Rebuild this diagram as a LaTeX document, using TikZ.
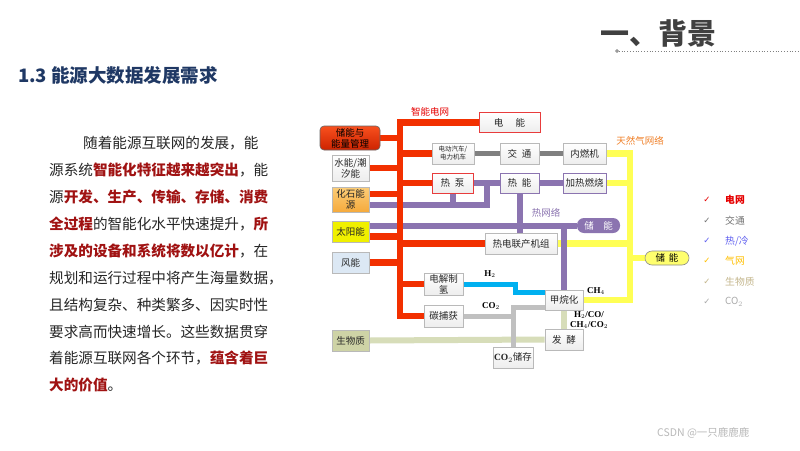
\documentclass[tikz,border=0pt]{standalone}
\usepackage{fontspec}
\setmainfont{Noto Sans CJK SC}
\newfontfamily\djv{DejaVu Sans}
\newfontfamily\tms{Liberation Serif}
\usetikzlibrary{backgrounds}
\definecolor{netred}{RGB}{242,48,0}
\definecolor{heatpur}{RGB}{139,116,176}
\definecolor{gasyel}{RGB}{255,255,85}
\definecolor{trafgray}{RGB}{128,128,128}
\definecolor{co2gray}{RGB}{192,192,192}
\definecolor{biogreen}{RGB}{215,221,185}
\definecolor{h2blue}{RGB}{0,176,240}
\definecolor{hlred}{RGB}{160,18,18}
\definecolor{txt}{RGB}{38,38,38}
\definecolor{navy}{RGB}{31,56,100}
\definecolor{essT}{RGB}{248,80,30}
\definecolor{essB}{RGB}{205,35,0}
\definecolor{boxred}{RGB}{232,60,60}
\definecolor{fosT}{RGB}{252,205,120}
\definecolor{fosB}{RGB}{245,170,60}
\definecolor{solarF}{RGB}{240,240,0}
\definecolor{windF}{RGB}{220,232,244}
\definecolor{bioF}{RGB}{206,211,166}
\definecolor{storGF}{RGB}{255,255,110}
\definecolor{lgRed}{RGB}{230,0,0}
\definecolor{lgGray}{RGB}{115,115,115}
\definecolor{lgBlue}{RGB}{95,95,240}
\definecolor{lgYel}{RGB}{255,192,0}
\definecolor{lgTan}{RGB}{196,182,140}
\definecolor{lgCO}{RGB}{170,170,170}
\definecolor{gasLbl}{RGB}{240,128,40}
\newcommand\hl[1]{{\bfseries\color{hlred}#1}}
\begin{document}
\begin{tikzpicture}[x=1pt,y=-1pt,
  box/.style={draw=gray!55, line width=0.6pt, top color=white, bottom color=gray!14,
    inner sep=0pt, align=center, font=\fontsize{9.5}{11}\selectfont, text=black!85},
  redl/.style={draw=netred, line width=6.5pt},
  purl/.style={draw=heatpur, line width=6pt},
  yell/.style={draw=gasyel, line width=6.5pt},
  grayl/.style={draw=trafgray, line width=5pt},
  co2l/.style={draw=co2gray, line width=5pt},
  biol/.style={draw=biogreen, line width=6pt},
  h2l/.style={draw=h2blue, line width=5pt},
  body/.style={anchor=west, inner sep=0pt, text=txt, font=\fontsize{14.6}{16}\selectfont},
  lbl/.style={inner sep=0pt, font=\fontsize{9.5}{11}\selectfont},
  chem/.style={inner sep=0pt, font=\tms\fontsize{9}{10}\selectfont\bfseries, align=center},
  chk/.style={inner sep=0pt, font=\djv\fontsize{8.5}{9}\selectfont},
  leg/.style={anchor=west, inner sep=0pt, font=\fontsize{9.8}{11}\selectfont}
]
\useasboundingbox (0,0) rectangle (800,450);

% header
\node[anchor=west, inner sep=0pt, text=black!75, font=\fontsize{29}{30}\selectfont\bfseries] (title) at (600,33) {一、背景};
\node[circle, draw=gray, fill=gray!60, inner sep=0pt, minimum size=3pt] (tdot) at (617,51) {};
\coordinate (tend) at (800,51);
\draw[gray, dotted, line width=0.8pt] (tdot) -- (tend);
\node[anchor=west, inner sep=0pt, text=navy, font=\fontsize{18.5}{20}\selectfont\bfseries] (sub) at (18,75) {1.3 能源大数据发展需求};

% body text
\node[body] (l1) at (83,143) {随着能源互联网的发展，能};
\node[body] (l2) at (49,170) {源系统\hl{智能化特征越来越突出}，能};
\node[body] (l3) at (49,197) {源\hl{开发、生产、传输、存储、消费}};
\node[body] (l4) at (49,224) {\hl{全过程}的智能化水平快速提升，\hl{所}};
\node[body] (l5) at (49,251) {\hl{涉及的设备和系统将数以亿计}，在};
\node[body] (l6) at (49,278) {规划和运行过程中将产生海量数据，};
\node[body] (l7) at (49,305) {且结构复杂、种类繁多、因实时性};
\node[body] (l8) at (49,332) {要求高而快速增长。这些数据贯穿};
\node[body] (l9) at (49,358) {着能源互联网各个环节，\hl{蕴含着巨}};
\node[body] (l10) at (49,385) {\hl{大的价值}。};

% diagram nodes
\node[box, draw=black!60, top color=essT, bottom color=essB, rounded corners=4pt, minimum width=60, minimum height=24, text=black] (ess) at (350,138) {储能与\\能量管理};
\node[box, minimum width=37, minimum height=26] (hydro) at (350.5,168) {水能/潮\\汐能};
\node[box, top color=fosT, bottom color=fosB, minimum width=37, minimum height=25] (fossil) at (350.5,199.5) {化石能\\源};
\node[box, top color=solarF, bottom color=solarF, minimum width=37, minimum height=21] (solar) at (350.5,231.5) {太阳能};
\node[box, top color=windF, bottom color=windF, minimum width=37, minimum height=21] (wind) at (350.5,262.5) {风能};
\node[box, top color=bioF, bottom color=bioF, minimum width=37, minimum height=21] (bio) at (350.5,340.5) {生物质};
\node[box, draw=boxred, line width=0.9pt, minimum width=61, minimum height=20] (elec) at (509.5,122.5) {电\hspace{1.3em}能};
\node[box, minimum width=42, minimum height=21, font=\fontsize{6.5}{8}\selectfont] (ev) at (453,153.5) {电动汽车/\\电力机车};
\node[box, minimum width=39, minimum height=21] (traffic) at (519.5,153.5) {交\hspace{0.5em}通};
\node[box, minimum width=43, minimum height=21] (ice) at (584.5,153.5) {内燃机};
\node[box, draw=boxred, line width=0.9pt, minimum width=41, minimum height=20] (hp) at (452.5,183) {热\hspace{0.5em}泵};
\node[box, draw=heatpur, line width=0.9pt, minimum width=39, minimum height=20] (heat) at (519.5,183) {热\hspace{0.5em}能};
\node[box, draw=heatpur, line width=0.9pt, minimum width=43, minimum height=20] (burn) at (584.5,183) {加热燃烧};
\node[box, minimum width=72, minimum height=21] (chp) at (521,243.5) {热电联产机组};
\node[box, draw=none, top color=heatpur, bottom color=heatpur, rounded corners=7pt, minimum width=43, minimum height=15, text=white] (storH) at (598.5,225.5) {储\hspace{1em}能};
\node[box, draw=black!45, top color=storGF, bottom color=storGF, rounded corners=7pt, minimum width=44, minimum height=14, text=black] (storG) at (667,258) {储\hspace{0.4em}能};
\node[box, minimum width=39, minimum height=22] (ely) at (443.5,284) {电解制\\氢};
\node[box, minimum width=39, minimum height=22] (ccs) at (443.5,316) {碳捕获};
\node[box, minimum width=38, minimum height=20] (meth) at (564,300) {甲烷化};
\node[box, minimum width=38, minimum height=21] (ferm) at (564,339.5) {发\hspace{0.5em}酵};
\node[box, minimum width=40, minimum height=21] (co2s) at (513,357.5) {{\tms\bfseries CO$_2$}储存};

% labels
\node[lbl, text=lgRed] (lgrid) at (430,112) {智能电网};
\node[lbl, text=gasLbl] (lgas) at (640,141) {天然气网络};
\node[lbl, text=heatpur] (lheat) at (546,213) {热网络};
\node[chem] (lh2) at (490,274) {H$_2$};
\node[chem] (lco2) at (491,306) {CO$_2$};
\node[chem] (lch4) at (596,291) {CH$_4$};
\node[chem] (lmix) at (589,320) {H$_2$/CO/\\CH$_4$/CO$_2$};

% legend
\node[chk, text=lgRed] (c1) at (707,200) {✓};
\node[leg, text=lgRed, font=\fontsize{9.8}{11}\selectfont\bfseries] (g1) at (725,200) {电网};
\node[chk, text=lgGray] (c2) at (707,221) {✓};
\node[leg, text=lgGray] (g2) at (725,221) {交通};
\node[chk, text=lgBlue] (c3) at (707,241) {✓};
\node[leg, text=lgBlue] (g3) at (725,241) {热/冷};
\node[chk, text=lgYel] (c4) at (707,261) {✓};
\node[leg, text=lgYel] (g4) at (725,261) {气网};
\node[chk, text=lgTan] (c5) at (707,282) {✓};
\node[leg, text=lgTan] (g5) at (725,282) {生物质};
\node[chk, text=lgCO] (c6) at (707,302) {✓};
\node[leg, text=lgCO] (g6) at (725,302) {CO$_2$};

% watermark
\node[anchor=west, inner sep=0pt, text=gray!55, font=\fontsize{10.5}{12}\selectfont] (wm) at (657,433) {CSDN @一只鹿鹿鹿};

% connectors
\coordinate (bx) at (400,0);
\coordinate (gx) at (630,0);
\coordinate (cx) at (513,0);
\coordinate (hx) at (515,0);
\coordinate (fx) at (486.5,0);
\coordinate (fp) at ([yshift=-5.5pt]fossil.east);
\coordinate (fr) at ([yshift=5.5pt]fossil.east);
\coordinate (sp) at ([yshift=6pt]solar.east);
\coordinate (sr) at ([yshift=-5pt]solar.east);
\coordinate (mh) at ([yshift=7.5pt]meth.west);
\coordinate (mc) at ([yshift=-7pt]meth.west);
\begin{scope}[on background layer]
  \fill[white] (0,0) rectangle (800,450);
  % gas network
  \draw[yell] (ice.east) -| (meth.east -| gx) -- (meth.east);
  \draw[yell] (burn.east) -- (burn.east -| gx);
  \draw[yell] (chp.east) -- (chp.east -| gx);
  \draw[yell] (storG.west -| gx) -- (storG.west);
  % heat network
  \draw[purl] (fp) -| (hp.east -| fx);
  \draw[purl] (hp.south) -- (hp.south |- fp);
  \draw[purl] (hp.east) -- (heat.west);
  \draw[purl] (heat.east) -- (burn.west);
  \draw[purl] (heat.south) -- (heat.south |- chp.north);
  \draw[purl] (sp) -- (sp -| storH.west);
  \draw[purl] (meth.north) -- (meth.north |- storH.west);
  % power grid
  \draw[redl] (ccs.west) -| (elec.west -| bx) -- (elec.west);
  \draw[redl] (ess.east) -- (ess.east -| bx);
  \draw[redl] (hydro.east) -- (hydro.east -| bx);
  \draw[redl] (fr) -- (fr -| bx);
  \draw[redl] (sr) -- (sr -| bx);
  \draw[redl] (wind.east) -- (wind.east -| bx);
  \draw[redl] (ev.west -| bx) -- (ev.west);
  \draw[redl] (hp.west -| bx) -- (hp.west);
  \draw[redl] (chp.west -| bx) -- (chp.west);
  \draw[redl] (ely.west -| bx) -- (ely.west);
  % transport
  \draw[grayl] (ev.east) -- (traffic.west);
  \draw[grayl] (traffic.east) -- (ice.west);
  % biomass
  \draw[biol] (bio.east) -- (ferm.west);
  \draw[biol] (meth.south) -- (ferm.north);
  % CO2
  \draw[co2l] (ccs.east) -- (ccs.east -| cx);
  \draw[co2l] (mc) -| (co2s.north);
  % H2
  \draw[h2l] (ely.east) -| (mh -| hx) -- (mh);
\end{scope}
\end{tikzpicture}
\end{document}
